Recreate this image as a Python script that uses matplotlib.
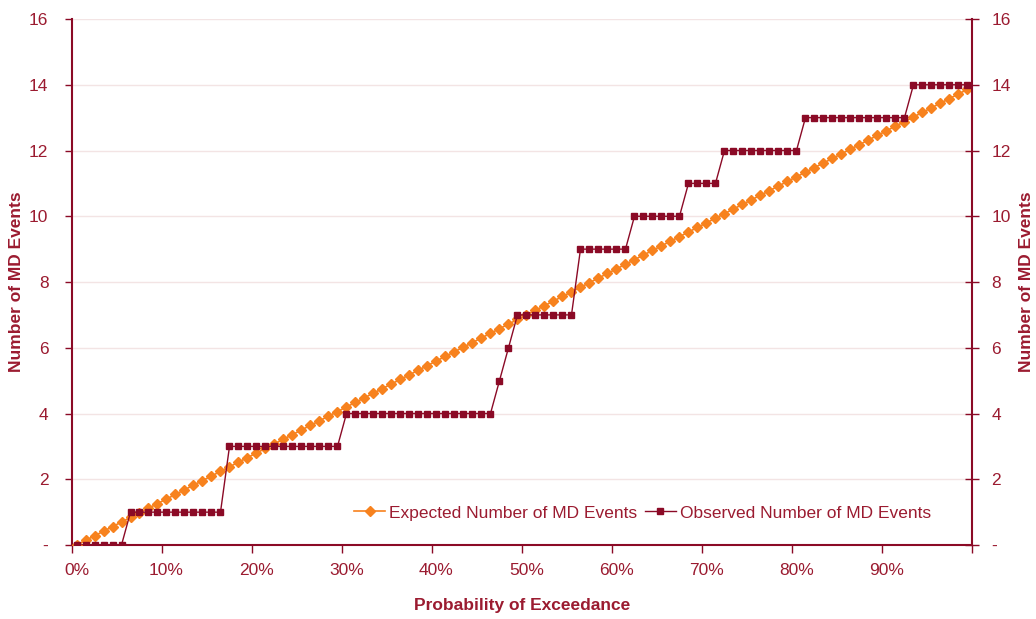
import matplotlib
matplotlib.use("Agg")
import matplotlib.pyplot as plt
from matplotlib.ticker import FixedLocator, FixedFormatter, NullFormatter

plt.rcParams["font.family"] = ["Liberation Sans", "DejaVu Sans"]

# Probability of exceedance categories, 0% .. 99% in 1% steps
categories = [i / 100 for i in range(100)]

expected_events = [
    0.00, 0.14, 0.28, 0.42, 0.56, 0.70, 0.84, 0.98, 1.12, 1.26,
    1.40, 1.54, 1.68, 1.82, 1.96, 2.10, 2.24, 2.38, 2.52, 2.66,
    2.80, 2.94, 3.08, 3.22, 3.36, 3.50, 3.64, 3.78, 3.92, 4.06,
    4.20, 4.34, 4.48, 4.62, 4.76, 4.90, 5.04, 5.18, 5.32, 5.46,
    5.60, 5.74, 5.88, 6.02, 6.16, 6.30, 6.44, 6.58, 6.72, 6.86,
    7.00, 7.14, 7.28, 7.42, 7.56, 7.70, 7.84, 7.98, 8.12, 8.26,
    8.40, 8.54, 8.68, 8.82, 8.96, 9.10, 9.24, 9.38, 9.52, 9.66,
    9.80, 9.94, 10.08, 10.22, 10.36, 10.50, 10.64, 10.78, 10.92, 11.06,
    11.20, 11.34, 11.48, 11.62, 11.76, 11.90, 12.04, 12.18, 12.32, 12.46,
    12.60, 12.74, 12.88, 13.02, 13.16, 13.30, 13.44, 13.58, 13.72, 13.86,
]

observed_events = [
    0, 0, 0, 0, 0, 0, 1, 1, 1, 1,
    1, 1, 1, 1, 1, 1, 1, 3, 3, 3,
    3, 3, 3, 3, 3, 3, 3, 3, 3, 3,
    4, 4, 4, 4, 4, 4, 4, 4, 4, 4,
    4, 4, 4, 4, 4, 4, 4, 5, 6, 7,
    7, 7, 7, 7, 7, 7, 9, 9, 9, 9,
    9, 9, 10, 10, 10, 10, 10, 10, 11, 11,
    11, 11, 12, 12, 12, 12, 12, 12, 12, 12,
    12, 13, 13, 13, 13, 13, 13, 13, 13, 13,
    13, 13, 13, 14, 14, 14, 14, 14, 14, 14,
]

x_tick_labels = ["0%", "10%", "20%", "30%", "40%", "50%", "60%", "70%", "80%", "90%"]
y_tick_values = [0, 2, 4, 6, 8, 10, 12, 14, 16]
y_tick_labels = ["-", "2", "4", "6", "8", "10", "12", "14", "16"]

axis_color = "#8B0A26"
text_color = "#9B1B30"
orange = "#F7821E"
grid_color = "#F3E4E4"
fs = 12.5

fig = plt.figure(figsize=(10.36, 6.19), dpi=100)
ax = fig.add_axes([0.0695, 0.1195, 0.8687, 0.8498])

# category positions sit in the middle of each 1% slot
xpos = [c * 100 + 0.5 for c in categories]

ax.plot(xpos, expected_events, color=orange, lw=1.2, marker="D", ms=5.6,
        mec=orange, mfc=orange, label="Expected Number of MD Events", zorder=3)
ax.plot(xpos, observed_events, color=axis_color, lw=1.0, marker="s", ms=4.8,
        mec=axis_color, mfc=axis_color, label="Observed Number of MD Events", zorder=4)

ax.set_xlim(0, 100)
ax.set_ylim(0, 16)

# x axis: ticks on slot boundaries, labels on slot centres
ax.xaxis.set_major_locator(FixedLocator(list(range(0, 101, 10))))
ax.xaxis.set_major_formatter(NullFormatter())
ax.xaxis.set_minor_locator(FixedLocator([v + 0.5 for v in range(0, 100, 10)]))
ax.xaxis.set_minor_formatter(FixedFormatter(x_tick_labels))
ax.tick_params(axis="x", which="major", direction="out", length=6, width=1,
               color=axis_color)
ax.tick_params(axis="x", which="minor", length=0, pad=13, labelsize=fs,
               labelcolor=text_color)

ax.set_yticks(y_tick_values)
ax.set_yticklabels(y_tick_labels)
ax.tick_params(axis="y", direction="out", length=5, width=1, color=axis_color,
               labelcolor=text_color, labelsize=fs, pad=12)
ax.grid(axis="y", color=grid_color, lw=1.0, zorder=0)

for side in ["left", "bottom"]:
    ax.spines[side].set_color(axis_color)
    ax.spines[side].set_linewidth(1.5)
ax.spines["top"].set_visible(False)
ax.spines["right"].set_visible(False)

# secondary axis on the right mirrors the left scale
ax2 = ax.twinx()
ax2.set_ylim(0, 16)
ax2.set_yticks(y_tick_values)
ax2.set_yticklabels(y_tick_labels)
ax2.tick_params(axis="y", direction="inout", length=10, width=1, color=axis_color,
                labelcolor=text_color, labelsize=fs, pad=9)
for side in ["left", "bottom", "top"]:
    ax2.spines[side].set_visible(False)
ax2.spines["right"].set_color(axis_color)
ax2.spines["right"].set_linewidth(1.5)

ax.set_xlabel("Probability of Exceedance", fontsize=fs, fontweight="bold",
              color=text_color)
ax.xaxis.set_label_coords(0.5, -0.1)
ax.set_ylabel("Number of MD Events", fontsize=fs, fontweight="bold",
              color=text_color)
ax.yaxis.set_label_coords(-0.053, 0.5)
ax2.set_ylabel("Number of MD Events", fontsize=fs, fontweight="bold",
               color=text_color, rotation=90)
ax2.yaxis.set_label_coords(1.052, 0.5)

leg = ax.legend(loc="center", bbox_to_anchor=(0.634, 0.061), ncol=2, frameon=False,
                fontsize=fs, handlelength=1.8, handletextpad=0.25, columnspacing=0.4,
                borderaxespad=0)
for t in leg.get_texts():
    t.set_color(text_color)

fig.savefig("out.png", dpi=100)
